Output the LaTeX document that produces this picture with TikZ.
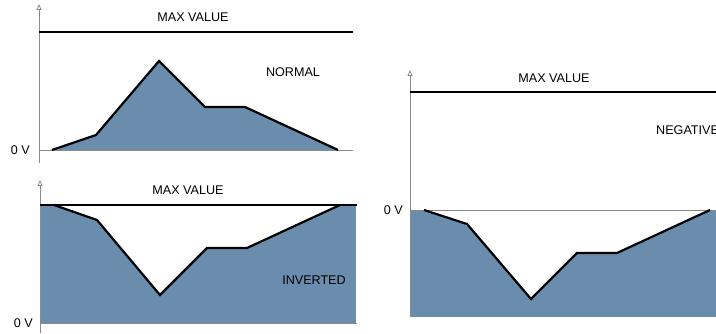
\documentclass[tikz,border=0pt]{standalone}
\usepackage{fontspec}
\setmainfont{Liberation Sans}
\usetikzlibrary{arrows.meta}
\usepackage{xcolor}
\definecolor{wavefill}{HTML}{6A8DAD}
\definecolor{axisgray}{HTML}{8A8A8A}

\begin{document}
\begin{tikzpicture}[
  x=1pt, y=-1pt,
  lbl/.style={font=\fontsize{12.6}{15}\selectfont, inner sep=0pt},
  ax/.style={-{Triangle[open, length=6pt, width=5pt]}, draw=axisgray, line width=0.8pt},
  maxline/.style={draw=black, line width=1.1pt},
  zeroline/.style={draw=axisgray, line width=0.8pt},
  wave/.style={draw=black, line width=2.2pt, line join=miter},
  area/.style={fill=wavefill},
]
\useasboundingbox (0,0) rectangle (716,334);

% normal
\fill[area] (52,150) -- (96,135) -- (159,61) -- (205,107) -- (245,107) -- (338,150) -- cycle;
\coordinate (n0) at (39,150);
\coordinate (n1) at (353,150);
\draw[zeroline] (n0) -- (n1);
\draw[wave] (52,150) -- (96,135) -- (159,61) -- (205,107) -- (245,107) -- (338,150);
\coordinate (na) at (39,163);
\coordinate (nb) at (39,4);
\draw[ax] (na) -- (nb);
\coordinate (nm0) at (39,32);
\coordinate (nm1) at (353,32);
\draw[maxline] (nm0) -- (nm1);
\node[lbl] (nmax) at (193,17) {MAX VALUE};
\node[lbl] (nlbl) at (293,72) {NORMAL};
\node[lbl, anchor=east] (nzero) at (30,150) {0 V};

% inverted
\fill[area] (40,205) rectangle (356,323);
\fill[white] (54,205) -- (97,220) -- (160,295) -- (207,248) -- (247,248) -- (340,205) -- cycle;
\coordinate (i0) at (40,323);
\coordinate (i1) at (357,323);
\draw[zeroline] (i0) -- (i1);
\draw[wave] (54,205) -- (97,220) -- (160,295) -- (207,248) -- (247,248) -- (340,205);
\coordinate (ia) at (40,333);
\coordinate (ib) at (40,180);
\draw[ax] (ia) -- (ib);
\coordinate (im0) at (40,205);
\coordinate (im1) at (357,205);
\draw[maxline] (im0) -- (im1);
\node[lbl] (imax) at (188,190) {MAX VALUE};
\node[lbl] (ilbl) at (314,280) {INVERTED};
\node[lbl, anchor=east] (izero) at (33,323) {0 V};

% negative
\fill[area] (410,210) rectangle (716,317);
\fill[white] (424,210) -- (467,224) -- (531,299) -- (577,253) -- (617,253) -- (710,210) -- cycle;
\coordinate (g0) at (410,210);
\coordinate (g1) at (716,210);
\draw[zeroline] (g0) -- (g1);
\draw[wave] (424,210) -- (467,224) -- (531,299) -- (577,253) -- (617,253) -- (710,210);
\coordinate (ga) at (410,317);
\coordinate (gb) at (410,70);
\draw[ax] (ga) -- (gb);
\coordinate (gm0) at (410,92);
\coordinate (gm1) at (716,92);
\draw[maxline] (gm0) -- (gm1);
\node[lbl] (gmax) at (554,78) {MAX VALUE};
\node[lbl, anchor=west] (glbl) at (656,130) {NEGATIVE};
\node[lbl, anchor=east] (gzero) at (403,210) {0 V};

\end{tikzpicture}
\end{document}
